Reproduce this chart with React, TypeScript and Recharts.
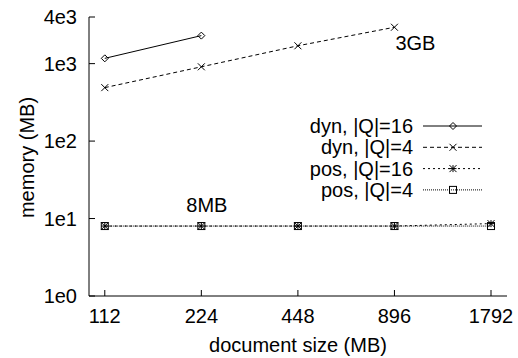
import React from 'react';
import { LineChart, Line, XAxis, YAxis, ReferenceDot } from 'recharts';

const FONT = "'Liberation Sans', Arial, Helvetica, sans-serif";

const xTicks = [112, 224, 448, 896, 1792];
const yTicks = [1, 10, 100, 1000, 4000];
const yTickLabels = ['1e0', '1e1', '1e2', '1e3', '4e3'];

const dyn16Sizes = [112, 224];
const dyn16Memory = [1170, 2300];
const dyn4Sizes = [112, 224, 448, 896];
const dyn4Memory = [490, 910, 1700, 2950];
const pos16Sizes = [112, 224, 448, 896, 1792];
const pos16Memory = [8, 8, 8, 8, 8.6];
const pos4Sizes = [112, 224, 448, 896, 1792];
const pos4Memory = [8, 8, 8, 8, 8];

const toPoints = (xs: number[], ys: number[]) => xs.map((x, i) => ({ x, y: ys[i] }));

type MarkerKind = 'diamond' | 'cross' | 'star' | 'square';

const series = [
  { name: 'dyn, |Q|=16', data: toPoints(dyn16Sizes, dyn16Memory), dash: undefined, marker: 'diamond' as MarkerKind },
  { name: 'dyn, |Q|=4', data: toPoints(dyn4Sizes, dyn4Memory), dash: '4 3', marker: 'cross' as MarkerKind },
  { name: 'pos, |Q|=16', data: toPoints(pos16Sizes, pos16Memory), dash: '2 3', marker: 'star' as MarkerKind },
  { name: 'pos, |Q|=4', data: toPoints(pos4Sizes, pos4Memory), dash: '1 1', marker: 'square' as MarkerKind },
];

const annotations = [
  { x: 896, y: 2950, text: '3GB', dx: 1, dy: 23, anchor: 'start' },
  { x: 224, y: 8, text: '8MB', dx: -15, dy: -14, anchor: 'start' },
];

const Marker = ({ kind, cx, cy }: { kind: MarkerKind; cx: number; cy: number }) => {
  const s = 3.5;
  if (kind === 'diamond') {
    return <path d={`M${cx} ${cy - s}L${cx + s} ${cy}L${cx} ${cy + s}L${cx - s} ${cy}Z`} fill="none" stroke="#000" strokeWidth={1} />;
  }
  if (kind === 'cross') {
    return <path d={`M${cx - s} ${cy - s}L${cx + s} ${cy + s}M${cx - s} ${cy + s}L${cx + s} ${cy - s}`} stroke="#000" strokeWidth={1} />;
  }
  if (kind === 'star') {
    return (
      <path
        d={`M${cx - s} ${cy - s}L${cx + s} ${cy + s}M${cx - s} ${cy + s}L${cx + s} ${cy - s}M${cx - s} ${cy}L${cx + s} ${cy}M${cx} ${cy - s}L${cx} ${cy + s}`}
        stroke="#000"
        strokeWidth={1}
      />
    );
  }
  return <rect x={cx - s} y={cy - s} width={2 * s} height={2 * s} fill="none" stroke="#000" strokeWidth={1} />;
};

const AnnotationLabel = (props: any) => {
  const { viewBox, text, dx, dy, anchor } = props;
  const cx = viewBox.x + (viewBox.width || 0) / 2;
  const cy = viewBox.y + (viewBox.height || 0) / 2;
  return (
    <text x={cx + dx} y={cy + dy} textAnchor={anchor} fill="#000" fontSize={20} fontFamily={FONT}>
      {text}
    </text>
  );
};

const YTitle = (props: any) => {
  const vb = props.viewBox || { x: 0, y: 17, width: 89, height: 279 };
  const cx = vb.x + 34;
  const cy = vb.y + vb.height / 2 + 1;
  return (
    <text x={cx} y={cy} transform={`rotate(-90 ${cx} ${cy})`} textAnchor="middle" fill="#000" fontSize={20} fontFamily={FONT}>
      memory (MB)
    </text>
  );
};

const XTitle = (props: any) => {
  const vb = props.viewBox || { x: 89, y: 296, width: 418, height: 62 };
  return (
    <text x={vb.x + vb.width / 2} y={vb.y + 56} textAnchor="middle" fill="#000" fontSize={20} fontFamily={FONT}>
      document size (MB)
    </text>
  );
};

const Legend = () => (
  <svg width={518} height={358} style={{ position: 'absolute', left: 0, top: 0, pointerEvents: 'none' }}>
    {series.map((s, i) => {
      const y = 126 + i * 21.3;
      return (
        <g key={s.name}>
          <text x={413} y={y + 7} textAnchor="end" fill="#000" fontSize={20} fontFamily={FONT}>
            {s.name}
          </text>
          <line x1={423} x2={482} y1={y} y2={y} stroke="#000" strokeWidth={1} strokeDasharray={s.dash} />
          <Marker kind={s.marker} cx={453} cy={y} />
        </g>
      );
    })}
  </svg>
);

const tickStyle = { fill: '#000', fontSize: 20, fontFamily: FONT };

export default function App() {
  return (
    <div style={{ position: 'absolute', left: 0, top: 0, width: 518, height: 358, background: '#fff' }}>
      <LineChart width={518} height={358} margin={{ top: 17, right: 11, bottom: 0, left: 0 }}>
        <XAxis
          dataKey="x"
          type="number"
          scale="log"
          domain={[100, 2010]}
          allowDataOverflow
          ticks={xTicks}
          height={62}
          tickSize={-6}
          tickMargin={19}
          tick={tickStyle}
          axisLine={{ stroke: '#000' }}
          tickLine={{ stroke: '#000' }}
          label={<XTitle />}
        />
        <XAxis
          xAxisId="top"
          orientation="top"
          dataKey="x"
          type="number"
          scale="log"
          domain={[100, 2010]}
          allowDataOverflow
          ticks={xTicks}
          height={0}
          tickSize={-6}
          tickFormatter={() => ''}
          axisLine={{ stroke: '#000' }}
          tickLine={{ stroke: '#000' }}
        />
        <YAxis
          type="number"
          scale="log"
          domain={[1, 4000]}
          allowDataOverflow
          ticks={yTicks}
          width={89}
          tickSize={-6}
          tickMargin={18}
          tick={tickStyle}
          tickFormatter={(v: number) => yTickLabels[yTicks.indexOf(v)] ?? ''}
          axisLine={{ stroke: '#000' }}
          tickLine={{ stroke: '#000' }}
          label={<YTitle />}
        />
        <YAxis
          yAxisId="right"
          orientation="right"
          type="number"
          scale="log"
          domain={[1, 4000]}
          allowDataOverflow
          ticks={yTicks}
          width={0}
          tickSize={-6}
          tickFormatter={() => ''}
          axisLine={{ stroke: '#000' }}
          tickLine={{ stroke: '#000' }}
        />
        {series.map((s) => (
          <Line
            key={s.name}
            data={s.data}
            dataKey="y"
            name={s.name}
            stroke="#000"
            strokeWidth={1}
            strokeDasharray={s.dash}
            isAnimationActive={false}
            dot={(p: any) => <Marker key={`${s.name}-${p.index}`} kind={s.marker} cx={p.cx} cy={p.cy} />}
          />
        ))}
        {annotations.map((a) => (
          <ReferenceDot
            key={a.text}
            x={a.x}
            y={a.y}
            r={0}
            stroke="none"
            fill="none"
            label={<AnnotationLabel text={a.text} dx={a.dx} dy={a.dy} anchor={a.anchor} />}
          />
        ))}
      </LineChart>
      <Legend />
    </div>
  );
}
